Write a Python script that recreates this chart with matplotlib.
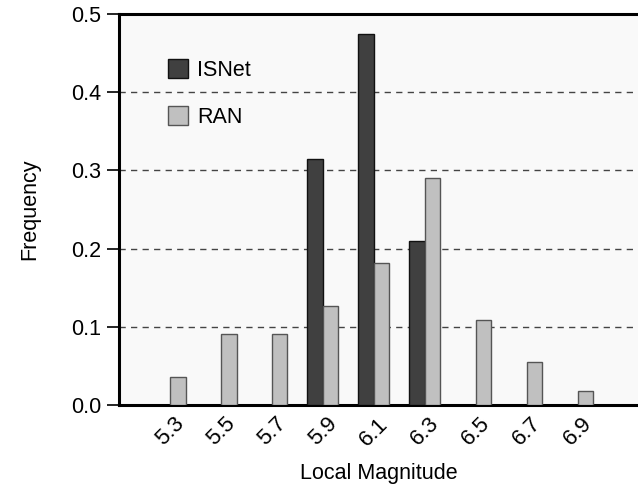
import numpy as np
import matplotlib.pyplot as plt

plt.rcParams.update({
    "font.family": ["Liberation Sans", "DejaVu Sans"],
    "font.size": 15.5,
})

# data
magnitudes = ["5.3", "5.5", "5.7", "5.9", "6.1", "6.3", "6.5", "6.7", "6.9"]
isnet = [0.0, 0.0, 0.0, 0.314, 0.474, 0.210, 0.0, 0.0, 0.0]
ran = [0.036, 0.091, 0.091, 0.127, 0.182, 0.290, 0.109, 0.055, 0.018]

fig = plt.figure(figsize=(6.38, 4.93), dpi=100)
ax = fig.add_axes([0.1865, 0.1785, 0.8135, 0.7931])
ax.set_facecolor("#f9f9f9")

x = np.arange(len(magnitudes))
w = 0.305
isnet_x = [xi for xi, v in zip(x, isnet) if v > 0]
isnet_v = [v for v in isnet if v > 0]
ax.bar(isnet_x, isnet_v, width=-w, align="edge", color="#404040",
       edgecolor="#111111", linewidth=1.0, label="ISNet", zorder=3)
ax.bar(x, ran, width=w, align="edge", color="#c0c0c0",
       edgecolor="#555555", linewidth=1.0, label="RAN", zorder=3)

ax.set_xlim(-1.0, 9.18)
ax.set_ylim(0, 0.5)
ax.set_yticks([0.0, 0.1, 0.2, 0.3, 0.4, 0.5])
ax.set_yticklabels(["0.0", "0.1", "0.2", "0.3", "0.4", "0.5"])
ax.set_xticks(x)
ax.set_xticklabels(magnitudes, rotation=45, ha="center", fontsize=16)
ax.tick_params(axis="x", length=0, pad=6)
ax.tick_params(axis="y", length=9, width=1.2, pad=4, direction="out")

for yv in [0.1, 0.2, 0.3, 0.4]:
    ax.axhline(yv, color="#444444", linestyle=(0, (4.5, 3.8)), linewidth=1.0,
               zorder=1)

for side in ["left", "bottom", "top"]:
    ax.spines[side].set_linewidth(2.2)
ax.spines["right"].set_visible(False)

ax.set_xlabel("Local Magnitude", labelpad=9)
ax.set_ylabel("Frequency", labelpad=22)

ax.legend(loc="upper left", bbox_to_anchor=(0.094, 0.885), frameon=False,
          borderpad=0, labelspacing=1.2, handlelength=0.95, handleheight=0.95,
          handletextpad=0.4, borderaxespad=0)

fig.savefig("out.png", dpi=100)
